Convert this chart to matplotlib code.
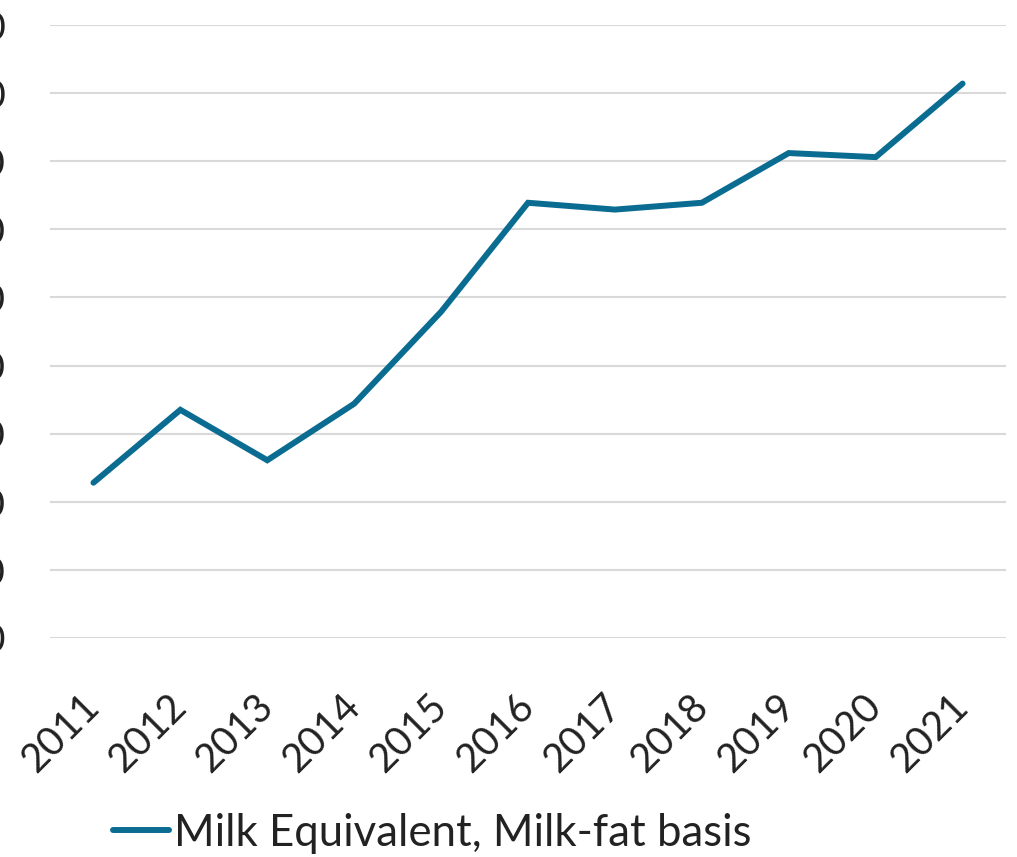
import matplotlib
matplotlib.use("Agg")
import matplotlib.pyplot as plt
from matplotlib.ticker import FuncFormatter

years = ["2011", "2012", "2013", "2014", "2015", "2016", "2017", "2018", "2019", "2020", "2021"]
milk_equivalent = [2280, 3350, 2610, 3440, 4790, 6390, 6290, 6390, 7120, 7060, 8140]
y_ticks = [0, 1000, 2000, 3000, 4000, 5000, 6000, 7000, 8000, 9000]
series_label = "Milk Equivalent, Milk-fat basis"

W, H = 1017, 857
fig = plt.figure(figsize=(W / 100, H / 100), dpi=100)
plt.rcParams['font.family'] = ['Lato', 'DejaVu Sans']

left, right, bottom, top = 50, 1006, 638, 25
ax = fig.add_axes([left / W, 1 - bottom / H, (right - left) / W, (bottom - top) / H])

x = list(range(len(years)))
line, = ax.plot(x, milk_equivalent, color='#0B6C92', lw=4.3, solid_joinstyle='miter',
                solid_capstyle='round', label=series_label)

ax.set_xlim(-0.5, len(years) - 0.5)
ax.set_ylim(0, 9000)
ax.set_yticks(y_ticks)
ax.yaxis.set_major_formatter(FuncFormatter(lambda v, p: f"{int(v):,}"))
ax.set_xticks(x)
ax.set_xticklabels(years, rotation=45, ha='right', va='center', rotation_mode='anchor')

ax.grid(axis='y', color='#D9D9D9', lw=1.5)
ax.set_axisbelow(True)
for s in ax.spines.values():
    s.set_visible(False)
ax.tick_params(axis='both', length=0, labelsize=28, colors='#222222')
ax.tick_params(axis='x', labelsize=28.5)
ax.tick_params(axis='y', pad=32)
ax.tick_params(axis='x', pad=45)

fig.legend(handles=[line], labels=[series_label], loc='center left',
           bbox_to_anchor=(113 / W, 1 - 833 / H), frameon=False, fontsize=31.5,
           handlelength=1.27, handletextpad=0.12, borderaxespad=0, borderpad=0,
           labelcolor='#222222')

fig.savefig("out.png", dpi=100)
